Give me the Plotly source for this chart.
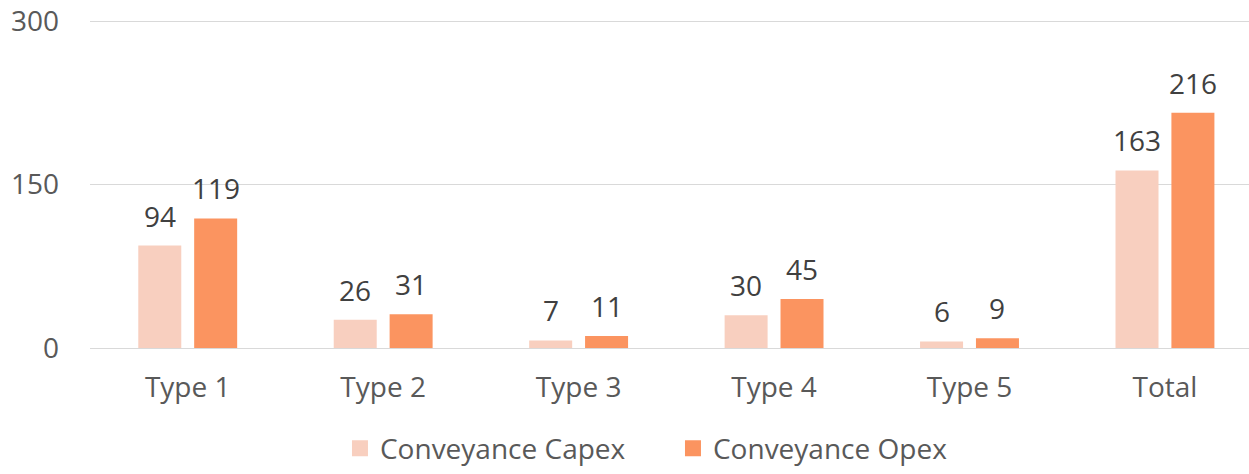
import plotly.graph_objects as go

categories = ["Type 1", "Type 2", "Type 3", "Type 4", "Type 5", "Total"]
capex = [94, 26, 7, 30, 6, 163]
opex = [119, 31, 11, 45, 9, 216]
series_names = ["Conveyance Capex", "Conveyance Opex"]
y_ticks = [0, 150, 300]

FONT = "'Open Sans', Lato, sans-serif"
FS = 28
TXT = "#595959"
LBL = "#404040"
BW = 0.22
OFFS = [-0.253, 0.033]
COLORS = ["#F8CFBF", "#FB9460"]

fig = go.Figure()
for vals, name, off, col in zip([capex, opex], series_names, OFFS, COLORS):
    fig.add_trace(go.Bar(
        x=categories, y=vals, name=name, showlegend=False,
        marker=dict(color=col, line=dict(width=0)),
        width=BW, offset=off,
    ))
    for i, v in enumerate(vals):
        fig.add_annotation(
            x=i + off + BW / 2, y=v, xref="x", yref="y",
            text=str(v), showarrow=False, yanchor="bottom", yshift=9,
            font=dict(size=FS, color=LBL, family=FONT),
        )

# legend entries with larger square swatches
for name, col in zip(series_names, COLORS):
    fig.add_trace(go.Scatter(
        x=[None], y=[None], mode="markers", name=name,
        marker=dict(symbol="square", size=20, color=col),
    ))

fig.update_layout(
    width=1249, height=474,
    margin=dict(l=90, r=0, t=18, b=120),
    paper_bgcolor="white", plot_bgcolor="white",
    font=dict(family=FONT, color=TXT, size=FS),
    showlegend=True,
    legend=dict(orientation="h", x=0.503, xanchor="center", y=-0.305, yanchor="middle",
                font=dict(size=FS, color=TXT), itemwidth=30, entrywidth=288,
                traceorder="normal"),
    xaxis=dict(range=[-0.5, 5.43], showgrid=False, showline=False, zeroline=False,
               ticks="", tickfont=dict(size=FS, color=TXT), ticklabelstandoff=20,
               automargin=False),
    yaxis=dict(range=[0, 303], tickvals=y_ticks, showgrid=True, gridcolor="#D9D9D9",
               gridwidth=1.3, zeroline=True, zerolinecolor="#D9D9D9", zerolinewidth=1.3,
               showline=False, ticks="", tickfont=dict(size=FS, color=TXT),
               ticklabelstandoff=30, automargin=False, ticklabeloverflow="allow"),
)

fig.write_html("out.html", config={"displayModeBar": False},
               post_script="document.body.style.margin='0';")
